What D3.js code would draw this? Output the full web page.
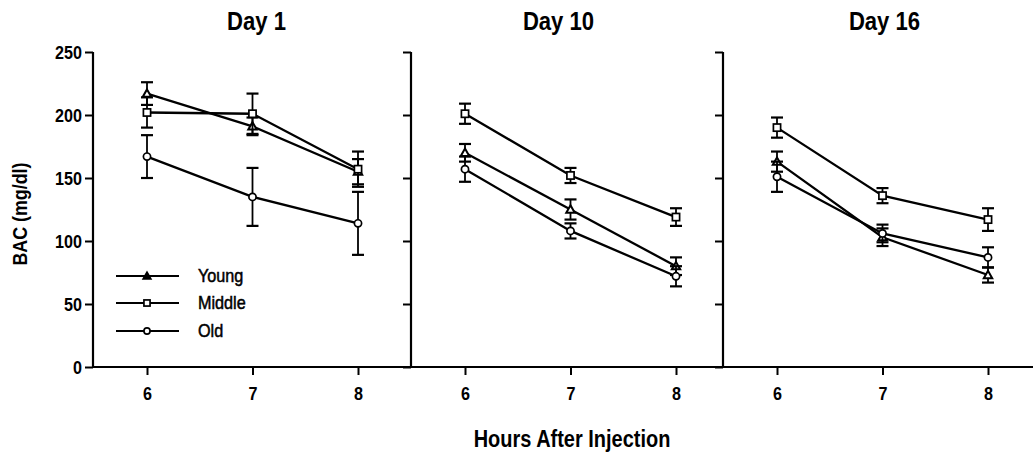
<!DOCTYPE html>
<html><head><meta charset="utf-8">
<script src="https://cdn.jsdelivr.net/npm/d3@7"></script>
<style>
html,body{margin:0;padding:0;background:#fff;}
svg text{font-family:"Liberation Sans",Arial,sans-serif;font-weight:bold;fill:#000;}
</style></head>
<body>
<svg id="chart" width="1033" height="457"></svg>
<script>
// ---- data ----
const days = ["Day 1", "Day 10", "Day 16"];
const hours = [6, 7, 8];
const groups = ["Young", "Middle", "Old"];
const yTicks = [0, 50, 100, 150, 200, 250];
// means [day][hour]
const youngMean  = [[217, 191, 155], [170, 125, 80], [163, 103, 73]];
const youngErr   = [[9, 7, 10], [7, 8, 7], [8, 7, 6]];
const middleMean = [[202, 201, 157], [201, 152, 119], [190, 136, 117]];
const middleErr  = [[12, 16, 14], [8, 6, 7], [8, 6, 9]];
const oldMean    = [[167, 135, 114], [157, 108, 72], [151, 106, 87]];
const oldErr     = [[17, 23, 25], [10, 6, 8], [12, 7, 8]];
const yLabel = "BAC (mg/dl)";
const xLabel = "Hours After Injection";

// ---- layout ----
const svg = d3.select("#chart");
const panelX0 = [93, 411, 723];
const yTop = 52, yBottom = 367;
const y = d3.scaleLinear().domain([0, 250]).range([yBottom, yTop]);
const titleOffset = [4, -12, 2];
const seriesMeans = [youngMean, middleMean, oldMean];
const seriesErrs = [youngErr, middleErr, oldErr];
const shapes = ["triangle", "square", "circle"];
const SX = 0.85; // condensed look

function label(parent, x, yy, str, size, anchor, opts = {}) {
  const t = parent.append("text")
    .attr("transform", `translate(${x},${yy})${opts.rotate ? ` rotate(${opts.rotate})` : ""} scale(${opts.sx || SX},1)`)
    .attr("text-anchor", anchor).attr("font-size", size).text(str);
  if (opts.dy) t.attr("dy", opts.dy);
  if (opts.weight) t.style("font-weight", opts.weight);
  return t;
}

// continuous x baseline
svg.append("line").attr("x1", panelX0[0]).attr("x2", 1033)
  .attr("y1", yBottom).attr("y2", yBottom)
  .attr("stroke", "#000").attr("stroke-width", 2.2);

function drawMarker(g, shape, cx, cy, small) {
  const s = small ? 0.85 : 1;
  if (shape === "triangle") {
    const r = 4.2 * s;
    g.append("path")
      .attr("d", `M${cx},${cy - r} L${cx + r},${cy + r * 0.75} L${cx - r},${cy + r * 0.75}Z`)
      .attr("fill", small ? "#000" : "#fff").attr("stroke", "#000").attr("stroke-width", 2);
  } else if (shape === "square") {
    const h = 3.6 * s;
    g.append("rect").attr("x", cx - h).attr("y", cy - h).attr("width", 2 * h).attr("height", 2 * h)
      .attr("fill", "#fff").attr("stroke", "#000").attr("stroke-width", 1.7);
  } else {
    g.append("circle").attr("cx", cx).attr("cy", cy).attr("r", 3.6 * s)
      .attr("fill", "#fff").attr("stroke", "#000").attr("stroke-width", 1.7);
  }
}

days.forEach((day, di) => {
  const x0 = panelX0[di];
  const x = d3.scaleLinear().domain([6, 8]).range([x0 + 54, x0 + 265]);
  const g = svg.append("g");

  // y axis
  const yAxis = d3.axisLeft(y).tickValues(yTicks).tickSize(8).tickSizeOuter(0).tickFormat(() => "");
  const ya = g.append("g").attr("transform", `translate(${x0},0)`).call(yAxis);
  ya.select(".domain").attr("stroke-width", 2.2).attr("d", `M0,${yTop}V${yBottom}`);
  ya.selectAll(".tick line").attr("stroke-width", 2);
  ya.selectAll(".tick text").remove();
  if (di === 0) {
    ya.selectAll(".tick").each(function (d) {
      label(d3.select(this), -11, 0, d3.format("d")(d), 19, "end", { dy: "0.36em" });
    });
  }

  // x axis
  const xAxis = d3.axisBottom(x).tickValues(hours).tickSize(8).tickSizeOuter(0).tickFormat(() => "");
  const xa = g.append("g").attr("transform", `translate(0,${yBottom})`).call(xAxis);
  xa.select(".domain").remove();
  xa.selectAll(".tick line").attr("stroke-width", 2);
  xa.selectAll(".tick text").remove();
  xa.selectAll(".tick").each(function (d) {
    label(d3.select(this), 0, 33, d3.format("d")(d), 19, "middle");
  });

  // title
  label(g, x(7) + titleOffset[di], 30, day, 26, "middle");

  // series
  groups.forEach((grp, gi) => {
    const means = seriesMeans[gi][di], errs = seriesErrs[gi][di];
    const pts = hours.map((h, hi) => ({ h, m: means[hi], e: errs[hi] }));
    pts.forEach(p => {
      const cx = x(p.h);
      g.append("line").attr("x1", cx).attr("x2", cx).attr("y1", y(p.m + p.e)).attr("y2", y(p.m - p.e))
        .attr("stroke", "#000").attr("stroke-width", 1.8);
      [p.m + p.e, p.m - p.e].forEach(v => {
        g.append("line").attr("x1", cx - 6).attr("x2", cx + 6).attr("y1", y(v)).attr("y2", y(v))
          .attr("stroke", "#000").attr("stroke-width", 2.2);
      });
    });
    g.append("path").datum(pts)
      .attr("d", d3.line().x(p => x(p.h)).y(p => y(p.m)))
      .attr("fill", "none").attr("stroke", "#000").attr("stroke-width", 2.3);
    pts.forEach(p => drawMarker(g, shapes[gi], x(p.h), y(p.m), false));
  });
});

// legend
const legY = [276, 303, 331];
groups.forEach((grp, gi) => {
  const lg = svg.append("g");
  lg.append("line").attr("x1", 116).attr("x2", 179).attr("y1", legY[gi]).attr("y2", legY[gi])
    .attr("stroke", "#000").attr("stroke-width", 1.8);
  drawMarker(lg, shapes[gi], 147, legY[gi], true);
  label(lg, 198, legY[gi], grp, 18, "start", { dy: "0.36em", weight: "normal", sx: 0.9 })
    .attr("stroke", "#000").attr("stroke-width", 0.5);
});

// axis labels
label(svg, 27, 214, yLabel, 21, "middle", { rotate: -90 });
label(svg, 572, 447, xLabel, 23.5, "middle");
</script>
</body></html>
